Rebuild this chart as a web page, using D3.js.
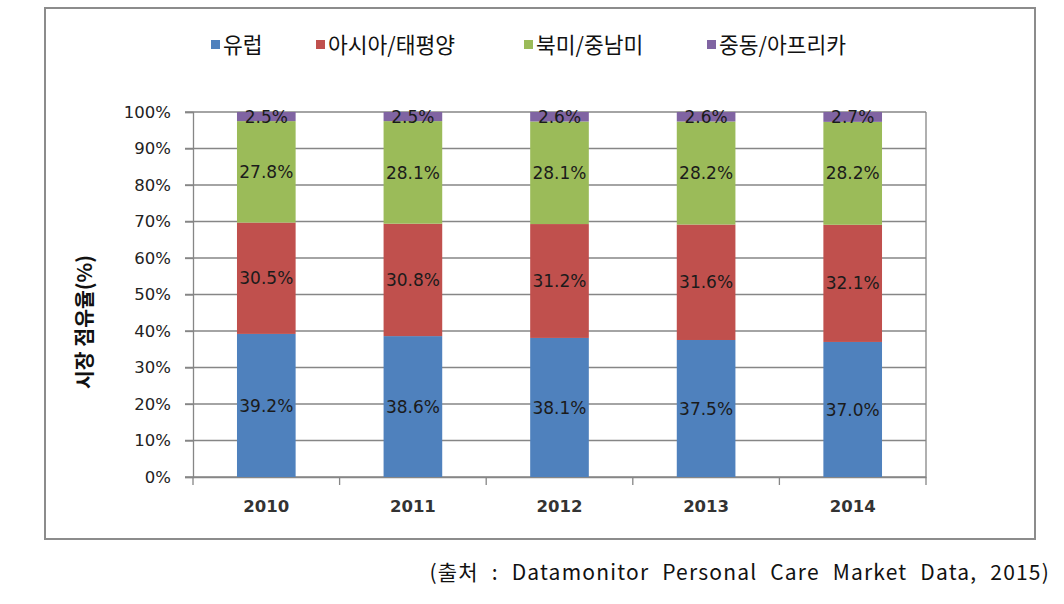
<!DOCTYPE html>
<html><head><meta charset="utf-8">
<script src="https://cdn.jsdelivr.net/npm/d3@7"></script>
<style>
html,body{margin:0;padding:0;background:#fff;}
svg{display:block;}
</style></head>
<body>
<svg id="chart" width="1064" height="604"></svg>
<script>
const years = ["2010","2011","2012","2013","2014"];
const seriesNames = ["유럽","아시아/태평양","북미/중남미","중동/아프리카"];
const europe   = [39.2, 38.6, 38.1, 37.5, 37.0];
const asiaPac  = [30.5, 30.8, 31.2, 31.6, 32.1];
const americas = [27.8, 28.1, 28.1, 28.2, 28.2];
const meAfrica = [2.5, 2.5, 2.6, 2.6, 2.7];
const yTicks = [0,10,20,30,40,50,60,70,80,90,100];
const colors = ["#4F81BD","#C0504D","#9BBB59","#8064A2"];
const yTitle = "시장 점유율(%)";
const caption = "(출처 : Datamonitor Personal Care Market Data, 2015)";

const seriesVals = [europe, asiaPac, americas, meAfrica];
const rows = years.map((y,i)=>{
  const o = {year:y};
  seriesNames.forEach((s,k)=>o[s]=seriesVals[k][i]);
  return o;
});
const stacked = d3.stack().keys(seriesNames).offset(d3.stackOffsetExpand)(rows);

const svg = d3.select("#chart");
// outer frame
svg.append("rect").attr("x",45).attr("y",8).attr("width",990).attr("height",531)
  .attr("fill","#fff").attr("stroke","#8c8c8c").attr("stroke-width",2);

const x = d3.scaleBand().domain(years).range([193,926]).paddingInner(0.6).paddingOuter(0.3);
const xb = d3.scaleBand().domain(years).range([193,926]);
const y = d3.scaleLinear().domain([0,1]).range([477,112]);

// gridlines
const g = svg.append("g");
g.selectAll("line.grid").data(yTicks).join("line")
  .attr("x1",185).attr("x2",926)
  .attr("y1",d=>y(d/100)).attr("y2",d=>y(d/100))
  .attr("stroke","#868686").attr("stroke-width",1.3);
g.append("line").attr("x1",926).attr("x2",926).attr("y1",112).attr("y2",477)
  .attr("stroke","#868686").attr("stroke-width",1.3);

// y axis
const yAxis = d3.axisLeft(y).tickValues(yTicks.map(d=>d/100)).tickFormat(d=>Math.round(d*100)+"%").tickSize(8).tickPadding(14);
const ya = svg.append("g").attr("transform","translate(193,0)").call(yAxis);
ya.select(".domain").attr("stroke","#868686").attr("stroke-width",1.3);
ya.selectAll(".tick line").attr("stroke","#868686").attr("stroke-width",1.3);
ya.selectAll(".tick text").attr("font-family","Tahoma, 'DejaVu Sans', sans-serif").attr("font-size",16.5).attr("fill","#222");

// x axis
const xAxis = d3.axisBottom(xb).tickSize(0).tickPadding(23);
const xa = svg.append("g").attr("transform","translate(0,477)").call(xAxis);
xa.select(".domain").attr("stroke","#868686").attr("stroke-width",1.3);
xa.selectAll(".tick text").attr("font-family","'DejaVu Sans', sans-serif").attr("font-size",16.5).attr("font-weight","bold").attr("fill","#333");
const bounds = years.map(d=>xb(d)).concat([926]);
xa.selectAll("line.bt").data(bounds).join("line").attr("class","bt")
  .attr("x1",d=>d).attr("x2",d=>d).attr("y1",0).attr("y2",8)
  .attr("stroke","#868686").attr("stroke-width",1.3);

// bars
const layers = svg.append("g").selectAll("g.layer").data(stacked).join("g")
  .attr("fill",(d,i)=>colors[i]);
layers.selectAll("rect").data(d=>d).join("rect")
  .attr("x",d=>x(d.data.year)).attr("width",x.bandwidth())
  .attr("y",d=>y(d[1])).attr("height",d=>y(d[0])-y(d[1]));

// labels
const lab = svg.append("g");
stacked.forEach((s,k)=>{
  lab.selectAll("text.l"+k).data(s).join("text")
    .attr("x",d=>x(d.data.year)+x.bandwidth()/2)
    .attr("y",d=>(y(d[0])+y(d[1]))/2)
    .attr("dy","0.36em")
    .attr("text-anchor","middle")
    .attr("font-family","Tahoma, 'DejaVu Sans', sans-serif").attr("font-size",17)
    .attr("fill","#1b1b1b")
    .text(d=>seriesVals[k][years.indexOf(d.data.year)].toFixed(1)+"%");
});

// legend
const legX = [211, 316, 524, 707];
const leg = svg.append("g");
seriesNames.forEach((n,i)=>{
  leg.append("rect").attr("x",legX[i]).attr("y",40).attr("width",9).attr("height",9).attr("fill",colors[i]);
  leg.append("text").attr("x",legX[i]+12).attr("y",45).attr("dy","0.36em")
    .attr("font-family","'Noto Sans CJK KR', sans-serif").attr("font-size",21.5).attr("fill","#111").text(n);
});

// y title
svg.append("text").attr("transform","translate(85,322) rotate(-90)")
  .attr("text-anchor","middle").attr("dy","0.36em")
  .attr("font-family","'Noto Sans CJK KR', sans-serif").attr("font-weight","bold").attr("font-size",20.5).attr("fill","#111")
  .text(yTitle);

// caption
svg.append("text").attr("x",1050).attr("y",572).attr("text-anchor","end").attr("dy","0.36em")
  .attr("font-family","'Liberation Sans Narrow','Noto Sans CJK KR', sans-serif").attr("font-size",21).attr("fill","#111")
  .attr("letter-spacing",1.2).attr("word-spacing",7)
  .text(caption);
</script>
</body></html>
